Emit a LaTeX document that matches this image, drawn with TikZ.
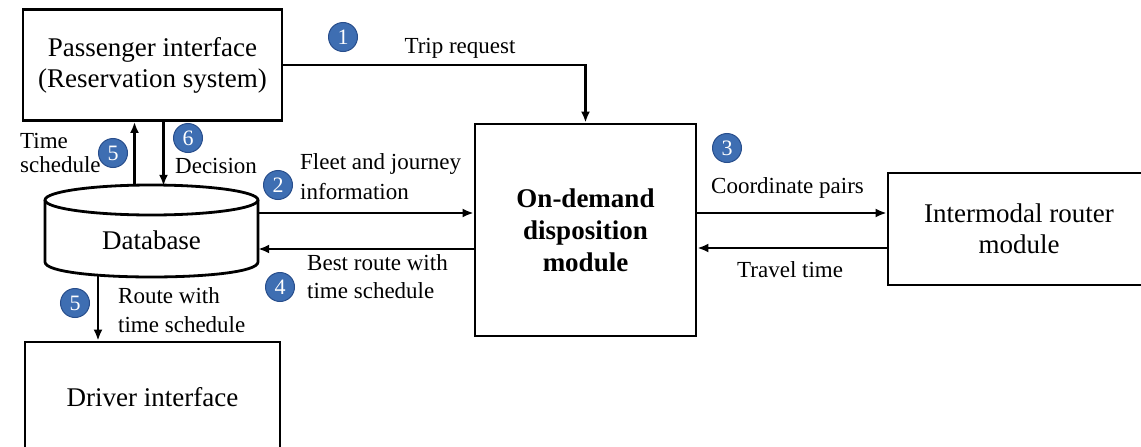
\documentclass[tikz,border=0pt]{standalone}
\usepackage{fontspec}
\setmainfont{Liberation Serif}
\usetikzlibrary{shapes,arrows.meta}
\definecolor{numblue}{RGB}{62,110,178}
\definecolor{numedge}{RGB}{40,78,140}

\begin{document}
\begin{tikzpicture}[x=1pt, y=-1pt,
  blockbox/.style={draw, line width=2.8pt, align=center, inner sep=0pt, font=\fontsize{27}{31}\selectfont},
  lbl/.style={inner sep=0pt, align=left, font=\fontsize{23}{28}\selectfont},
  num/.style={circle, fill=numblue, draw=numedge, line width=1pt, text=white, inner sep=0pt, minimum size=29pt, font=\fontsize{22}{22}\selectfont},
  arr/.style={-{Latex[length=11pt,width=9pt]}, line width=2.8pt}]
  \useasboundingbox (0,0) rectangle (1141,447);

  % Blocks
  \node[blockbox, minimum width=259pt, minimum height=111pt] (pass) at (152.5,65) {Passenger interface\\(Reservation system)};
  \node[blockbox, minimum width=221pt, minimum height=212pt, font=\fontsize{27}{32}\selectfont\bfseries] (disp) at (585.5,230) {On-demand\\disposition\\module};
  \node[blockbox, minimum width=262pt, minimum height=112pt] (router) at (1019,229) {Intermodal router\\module};
  \node[blockbox, minimum width=255pt, minimum height=110pt] (driver) at (152.5,397) {Driver interface};

  % Database
  \node[inner sep=0pt, minimum width=213pt, minimum height=74pt, font=\fontsize{27}{31}\selectfont] (db) at (151.5,240) {Database};
  \draw[line width=2.8pt] (45,200) -- (45,262) .. controls (45,282) and (258,282) .. (258,262) -- (258,200);
  \draw[line width=2.8pt] (151.5,200) ellipse [x radius=106.5, y radius=15];

  % Connectors
  \draw[arr] (pass.east) -- (pass.east -| disp.north) -- (disp.north);
  \draw[arr] ([xshift=-17pt,yshift=17pt]db.north) -- ([xshift=-18pt]pass.south);
  \draw[arr] ([xshift=11pt]pass.south) -- ([xshift=12pt,yshift=17pt]db.north);
  \draw[arr] ([yshift=27pt]db.east) -- ([yshift=17pt]disp.west);
  \draw[arr] ([yshift=-19pt]disp.west) -- ([yshift=-9pt]db.east);
  \draw[arr] ([yshift=17pt]disp.east) -- ([yshift=16pt]router.west);
  \draw[arr] ([yshift=-19pt]router.west) -- ([yshift=-18pt]disp.east);
  \draw[arr] ([xshift=-53.5pt,yshift=2pt]db.south) -- ([xshift=-54.5pt]driver.north);

  % Labels
  \node[lbl, anchor=base] (trip) at (460,53) {Trip request};
  \node[lbl, anchor=north west, font=\fontsize{23}{24}\selectfont] (tsched) at (20,133) {Time\\schedule};
  \node[lbl, anchor=base west] (decision) at (175,173) {Decision};
  \node[lbl, anchor=north west, font=\fontsize{23}{30}\selectfont] (fleet) at (300,153) {Fleet and journey\\information};
  \node[lbl, anchor=north west] (best) at (307,254) {Best route with\\time schedule};
  \node[lbl, anchor=north west, font=\fontsize{23}{29}\selectfont] (rsched) at (118,287) {Route with\\time schedule};
  \node[lbl, anchor=base west] (coord) at (711,193) {Coordinate pairs};
  \node[lbl, anchor=base west] (travel) at (737,277) {Travel time};

  % Step numbers
  \node[num] (n1) at (343,37) {1};
  \node[num] (n2) at (278,185) {2};
  \node[num] (n3) at (727,148) {3};
  \node[num] (n4) at (280,287) {4};
  \node[num] (n5a) at (113,153) {5};
  \node[num] (n5b) at (75,303) {5};
  \node[num] (n6) at (188,138) {6};
\end{tikzpicture}
\end{document}
